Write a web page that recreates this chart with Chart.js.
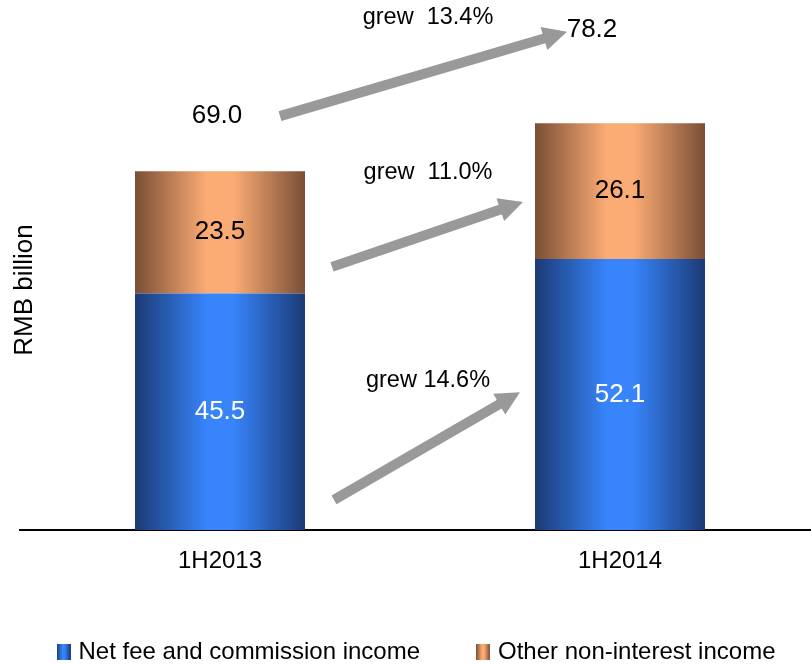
<!DOCTYPE html>
<html>
<head>
<meta charset="utf-8">
<script src="https://cdn.jsdelivr.net/npm/chart.js@4.4.1/dist/chart.umd.min.js"></script>
<style>
  html, body { margin: 0; padding: 0; background: #fff; overflow: hidden; }
  #wrap { width: 811px; height: 665px; overflow: hidden; }
</style>
</head>
<body>
<div id="wrap"><canvas id="income" width="836" height="674"></canvas></div>
<script>
// data
const categories = ['1H2013', '1H2014'];
const netFee = [45.5, 52.1];
const otherIncome = [23.5, 26.1];
const growthText = ['grew  13.4%', 'grew  11.0%', 'grew 14.6%'];
const seriesNames = ['Net fee and commission income', 'Other non-interest income'];

const FONT = "'Liberation Sans', Arial, sans-serif";

// arrow / note placement in scale units (x = category index, y = RMB bn)
const arrows = [
  { from: [0.15, 79.6], to: [0.8675, 95.8], text: [0.52, 98.5] },
  { from: [0.28, 50.6], to: [0.7575, 63.1], text: [0.52, 68.8] },
  { from: [0.285, 5.8], to: [0.75, 26.5], text: [0.52, 28.8] }
];
const totalPos = [[-0.0075, 79.6], [0.93, 96.2]];

const blue = { edge: '#1b3a74', mid: '#3784fb' };
const orange = { edge: '#7a4e35', mid: '#fbab74' };

function barGradient(ctx, x0, x1, c) {
  let g = ctx.createLinearGradient(x0, 0, x1, 0);
  g.addColorStop(0, c.edge);
  g.addColorStop(0.42, c.mid);
  g.addColorStop(0.58, c.mid);
  g.addColorStop(1, c.edge);
  return g;
}

function legendBox(c) {
  let cv = document.createElement('canvas');
  cv.width = 14; cv.height = 16;
  let cx = cv.getContext('2d');
  cx.fillStyle = barGradient(cx, 0, 14, c);
  cx.fillRect(0, 0, 14, 16);
  return cv;
}

function fillFor(c) {
  return function(context) {
    let chart = context.chart;
    let xs = chart.scales.x;
    if (!xs || context.dataIndex === undefined) return c.mid;
    let cx = xs.getPixelForValue(context.dataIndex);
    let half = xs.width / categories.length * 0.425 / 2;
    return barGradient(chart.ctx, cx - half, cx + half, c);
  };
}

const notes = {
  id: 'notes',
  afterDatasetsDraw(chart) {
    let ctx = chart.ctx;
    let xs = chart.scales.x, ys = chart.scales.y;
    ctx.save();
    ctx.textAlign = 'center';
    ctx.textBaseline = 'middle';
    ctx.font = '26px ' + FONT;

    // segment values
    chart.data.datasets.forEach((ds, di) => {
      chart.getDatasetMeta(di).data.forEach((bar, i) => {
        ctx.fillStyle = di === 0 ? '#ffffff' : '#000000';
        ctx.fillText(ds.data[i].toFixed(1), bar.x, (bar.y + bar.base) / 2);
      });
    });

    // totals
    ctx.fillStyle = '#000';
    categories.forEach((c, i) => {
      let total = netFee[i] + otherIncome[i];
      ctx.fillText(total.toFixed(1), xs.getPixelForValue(totalPos[i][0]), ys.getPixelForValue(totalPos[i][1]));
    });

    // growth arrows
    ctx.font = '23.5px ' + FONT;
    arrows.forEach((a, i) => {
      let x0 = xs.getPixelForValue(a.from[0]), y0 = ys.getPixelForValue(a.from[1]);
      let x1 = xs.getPixelForValue(a.to[0]), y1 = ys.getPixelForValue(a.to[1]);
      let ang = Math.atan2(y1 - y0, x1 - x0);
      let head = 24, hw = 12;
      let bx = x1 - head * Math.cos(ang), by = y1 - head * Math.sin(ang);
      ctx.strokeStyle = '#999999';
      ctx.fillStyle = '#999999';
      ctx.lineWidth = 10;
      ctx.lineCap = 'butt';
      ctx.beginPath();
      ctx.moveTo(x0, y0);
      ctx.lineTo(bx + Math.cos(ang), by + Math.sin(ang));
      ctx.stroke();
      ctx.beginPath();
      ctx.moveTo(x1, y1);
      ctx.lineTo(bx + hw * Math.sin(ang), by - hw * Math.cos(ang));
      ctx.lineTo(bx - hw * Math.sin(ang), by + hw * Math.cos(ang));
      ctx.closePath();
      ctx.fill();
      ctx.fillStyle = '#000';
      ctx.fillText(growthText[i], xs.getPixelForValue(a.text[0]), ys.getPixelForValue(a.text[1]));
    });

    // axis title
    ctx.save();
    ctx.translate(25, 290);
    ctx.rotate(-Math.PI / 2);
    ctx.font = '26px ' + FONT;
    ctx.fillText('RMB billion', 0, 0);
    ctx.restore();

    ctx.restore();
  }
};

const boxes = [legendBox(blue), legendBox(orange)];

let income = document.getElementById('income').getContext('2d');

let barChart = new Chart(income, {
  type: 'bar',
  data: {
    labels: categories,
    datasets: [
      { label: seriesNames[0], data: netFee, backgroundColor: fillFor(blue), borderWidth: 0 },
      { label: seriesNames[1], data: otherIncome, backgroundColor: fillFor(orange), borderWidth: 0 }
    ]
  },
  options: {
    responsive: false,
    animation: false,
    devicePixelRatio: 1,
    layout: { padding: { left: 0, top: 10, right: 0, bottom: 0 } },
    datasets: { bar: { barPercentage: 0.85, categoryPercentage: 0.5 } },
    scales: {
      x: {
        stacked: true,
        grid: { display: false, drawTicks: true, tickLength: 13 },
        border: { display: true, color: '#000', width: 2 },
        ticks: { color: '#000', padding: 4.1, font: { family: FONT, size: 24 } }
      },
      y: {
        stacked: true,
        min: 0,
        max: 100,
        ticks: { display: false },
        grid: { display: false },
        border: { display: false },
        afterFit: s => { s.width = 20; }
      },
      // empty right-hand spacer so the legend row can be wider than the plot
      yr: {
        position: 'right',
        ticks: { display: false },
        grid: { display: false },
        border: { display: false },
        afterFit: s => { s.width = 16; }
      }
    },
    plugins: {
      tooltip: { enabled: false },
      legend: {
        position: 'bottom',
        labels: {
          usePointStyle: true,
          boxWidth: 6,
          padding: 60,
          color: '#000',
          font: { family: FONT, size: 24 },
          generateLabels: function(chart) {
            return chart.data.datasets.map((ds, i) => ({
              text: ds.label,
              pointStyle: boxes[i],
              fillStyle: i === 0 ? blue.mid : orange.mid,
              strokeStyle: 'rgba(0,0,0,0)',
              lineWidth: 0,
              datasetIndex: i,
              hidden: false
            }));
          }
        }
      }
    }
  },
  plugins: [notes]
});
</script>
</body>
</html>
